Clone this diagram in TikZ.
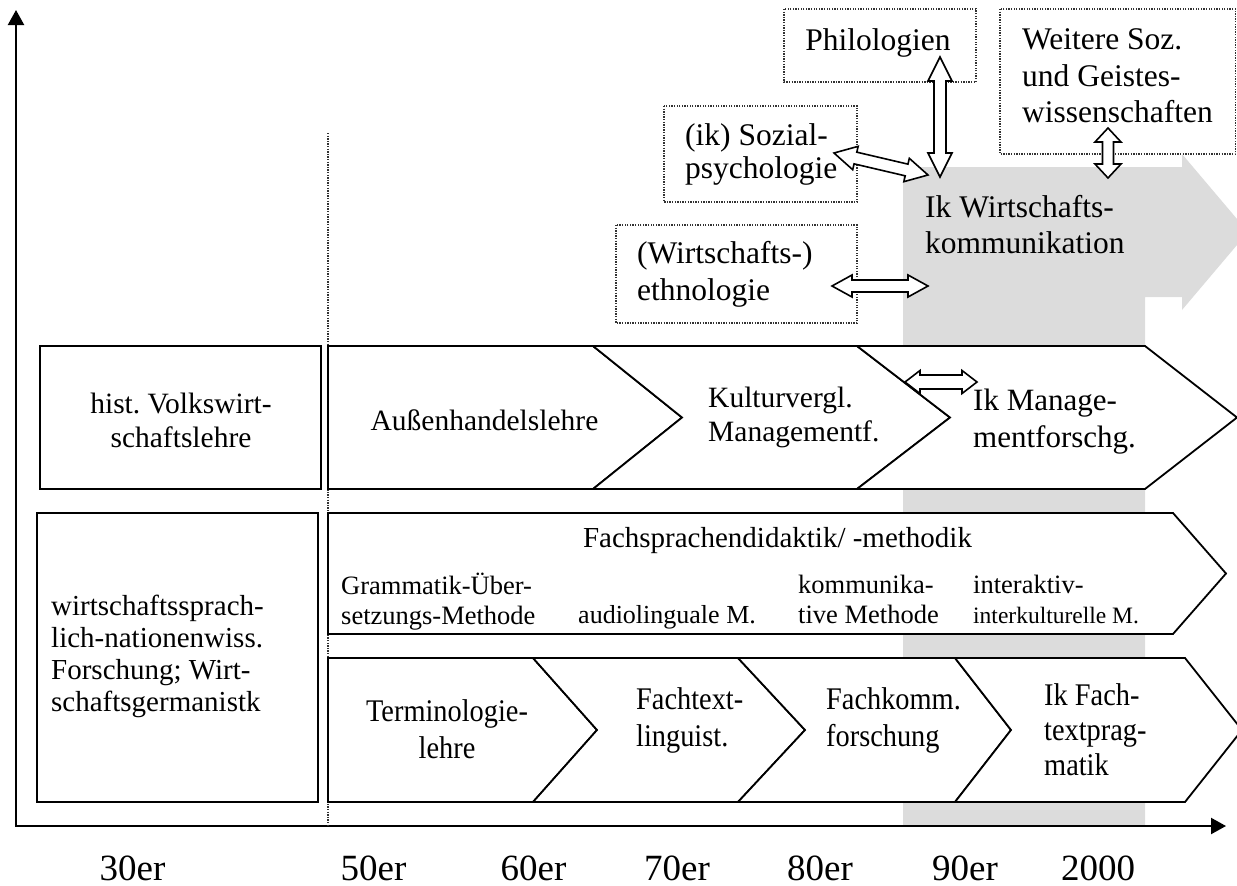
\documentclass[tikz,border=0pt]{standalone}
\usepackage{fontspec}
\setmainfont{Liberation Serif}
\newfontfamily\condfont{Liberation Serif}[FakeStretch=0.9]
\frenchspacing
\usetikzlibrary{calc,arrows.meta}
\definecolor{bandgray}{RGB}{220,220,220}
\definecolor{dotgray}{RGB}{50,50,50}
\tikzset{
  shapeline/.style={line width=1.8pt, draw=black, fill=white, line join=miter},
  dotbox/.style={draw=dotgray, line width=1.3pt, dash pattern=on 1.3pt off 1.3pt, fill=white},
  dotline/.style={draw=dotgray, line width=1.3pt, dash pattern=on 1.3pt off 1.3pt},
  blockarrow/.style={draw=black, fill=white, line width=1.6pt, line join=miter},
  axisline/.style={line width=2.2pt, {Triangle[length=15pt,width=16pt]}-{Triangle[length=15pt,width=16pt]}},
  tx/.style={inner sep=0pt, text=black},
  tyear/.style={inner sep=0pt, anchor=base, font=\fontsize{37}{44}\selectfont},
}
\newcommand{\blockarr}[5]{%
  \path ($(#1)!#3!(#2)$) coordinate (#1h) ($(#2)!#3!(#1)$) coordinate (#2h);
  \filldraw[blockarrow] (#1) -- ($(#1h)!#5!90:(#2)$) -- ($(#1h)!#4!90:(#2)$) -- ($(#2h)!#4!-90:(#1)$) -- ($(#2h)!#5!-90:(#1)$) -- (#2) -- ($(#2h)!#5!90:(#1)$) -- ($(#2h)!#4!90:(#1)$) -- ($(#1h)!#4!-90:(#2)$) -- ($(#1h)!#5!-90:(#2)$) -- cycle;
}
\begin{document}
\begin{tikzpicture}[x=1pt,y=-1pt]
\useasboundingbox (0,0) rectangle (1237,886);
\clip (0,0) rectangle (1237,886);
% gray band / arrow
\fill[bandgray] (903,167) -- (1182,167) -- (1182,154) -- (1248,232) -- (1182,310) -- (1182,297) -- (1145,297) -- (1145,826) -- (903,826) -- cycle;
% axes
\coordinate (ytop) at (16,10);
\coordinate (orig) at (16,826);
\coordinate (xend) at (1226,826);
\draw[axisline] (ytop) -- (orig) -- (xend);
% dotted divider
\coordinate (dtop) at (328,133);
\coordinate (dbot) at (328,826);
\draw[dotline] (dtop) -- (dbot);
% dotted boxes
\draw[dotbox] (784,9) rectangle (976,82);
\draw[dotbox] (1000,9) rectangle (1235.5,154);
\draw[dotbox] (664,106) rectangle (857,202);
\draw[dotbox] (616,225) rectangle (857,323);
% row 1
\draw[shapeline] (40,346) rectangle (321,489);
\draw[shapeline] (328,346) -- (593,346) -- (682,417.5) -- (593,489) -- (328,489) -- cycle;
\draw[shapeline] (593,346) -- (857,346) -- (950,417.5) -- (857,489) -- (593,489) -- (682,417.5) -- cycle;
\draw[shapeline] (857,346) -- (1145,346) -- (1237,417.5) -- (1145,489) -- (857,489) -- (950,417.5) -- cycle;
% row 2
\draw[shapeline] (37,513) rectangle (318,802);
\draw[shapeline] (328,513) -- (1173,513) -- (1226,573.5) -- (1173,634) -- (328,634) -- cycle;
% row 3
\draw[shapeline] (328,658) -- (533,658) -- (597,730) -- (533,802) -- (328,802) -- cycle;
\draw[shapeline] (533,658) -- (738,658) -- (805,730) -- (738,802) -- (533,802) -- (597,730) -- cycle;
\draw[shapeline] (738,658) -- (955,658) -- (1011,730) -- (955,802) -- (738,802) -- (805,730) -- cycle;
\draw[shapeline] (955,658) -- (1185,658) -- (1242,730) -- (1185,802) -- (955,802) -- (1011,730) -- cycle;
% block arrows
\coordinate (phA) at (940,57);
\coordinate (phB) at (940,177);
\coordinate (szA) at (834,153);
\coordinate (szB) at (928,175);
\coordinate (etA) at (832,286);
\coordinate (etB) at (928,286);
\coordinate (wsA) at (1108,128);
\coordinate (wsB) at (1108,178);
\coordinate (mgA) at (905,382);
\coordinate (mgB) at (977,382);
\blockarr{phA}{phB}{24pt}{6pt}{12pt}
\blockarr{szA}{szB}{22pt}{6pt}{12pt}
\blockarr{etA}{etB}{20pt}{6pt}{11pt}
\blockarr{wsA}{wsB}{14pt}{5.5pt}{13pt}
\blockarr{mgA}{mgB}{15pt}{7pt}{11.5pt}
% texts top
\node[tx, font=\fontsize{31.5}{36.5}\selectfont, anchor=base] (phil) at (878,50) {Philologien};
\node[tx, font=\fontsize{31.5}{36.5}\selectfont, align=left, anchor=west] (weit) at (1022,76) {Weitere Soz.\\und Geistes-\\wissenschaften};
\node[tx, font=\fontsize{31.5}{33}\selectfont, align=left, anchor=west] (soz) at (685,154) {(ik) Sozial-\\psychologie};
\node[tx, font=\fontsize{31.5}{37}\selectfont, align=left, anchor=west] (eth) at (637,274) {(Wirtschafts-)\\ethnologie};
\node[tx, font=\fontsize{31.5}{36}\selectfont, align=left, anchor=west] (ikw) at (925,224.5) {Ik Wirtschafts-\\kommunikation};
% row 1 texts
\node[tx, font=\fontsize{29.5}{34}\selectfont, align=center] (hist) at (181,420) {hist. Volkswirt-\\schaftslehre};
\node[tx, font=\fontsize{29.5}{34}\selectfont, anchor=base] (auss) at (484.5,430) {Außenhandelslehre};
\node[tx, font=\fontsize{29.5}{34}\selectfont, align=left, anchor=west] (kult) at (708,417) {Kulturvergl.\\Managementf.};
\node[tx, font=\fontsize{31}{37}\selectfont, align=left, anchor=west] (ikm) at (973,422) {Ik Manage-\\mentforschg.};
% row 2 texts
\node[tx, font=\fontsize{29}{32}\selectfont, align=left, anchor=west] (wsn) at (51,656) {wirtschaftssprach-\\lich-nationenwiss.\\Forschung; Wirt-\\schaftsgermanistk};
\node[tx, font=\fontsize{29}{32}\selectfont, anchor=base] (fsd) at (777.5,547) {Fachsprachendidaktik/ -methodik};
\node[tx, font=\fontsize{26.5}{30}\selectfont, align=left, anchor=west] (gram) at (341,601.4) {Grammatik-Über-\\setzungs-Methode};
\node[tx, font=\fontsize{26}{30}\selectfont, anchor=base west] (audio) at (578,623) {audiolinguale M.};
\node[tx, font=\fontsize{26.5}{30}\selectfont, align=left, anchor=west] (komm) at (798,599) {kommunika-\\tive Methode};
\node[tx, font=\fontsize{26.5}{30}\selectfont, align=left, anchor=west] (inter) at (973,599) {interaktiv-\\{\fontsize{23.5}{30}\selectfont interkulturelle M.}};
% row 3 texts
\node[tx, font=\condfont\fontsize{31.5}{37}\selectfont, align=center] (term) at (447,729) {Terminologie-\\lehre};
\node[tx, font=\condfont\fontsize{31.5}{37}\selectfont, align=left, anchor=west] (ftl) at (636,720) {Fachtext-\\linguist.};
\node[tx, font=\condfont\fontsize{31.5}{37}\selectfont, align=left, anchor=west] (fkf) at (826,720) {Fachkomm.\\forschung};
\node[tx, font=\condfont\fontsize{31.5}{35}\selectfont, align=left, anchor=west] (ikf) at (1044,730) {Ik Fach-\\textprag-\\matik};
% years
\node[tyear] (y30) at (132.5,880) {30er};
\node[tyear] (y50) at (373.5,880) {50er};
\node[tyear] (y60) at (533.5,880) {60er};
\node[tyear] (y70) at (677,880) {70er};
\node[tyear] (y80) at (820,880) {80er};
\node[tyear] (y90) at (965,880) {90er};
\node[tyear] (y00) at (1098,880) {2000};
\end{tikzpicture}
\end{document}
